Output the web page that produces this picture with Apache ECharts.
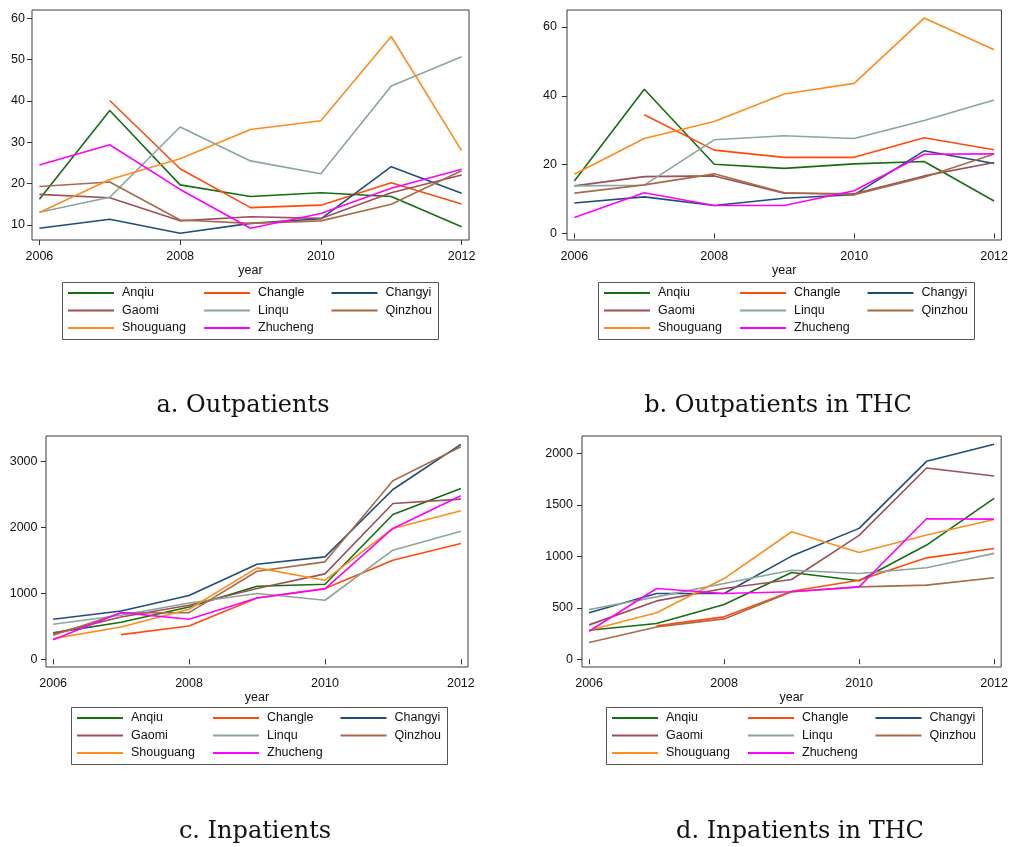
<!DOCTYPE html>
<html>
<head>
<meta charset="utf-8">
<script src="https://cdn.jsdelivr.net/npm/echarts@6/dist/echarts.min.js"></script>
<style>
  html, body { margin: 0; padding: 0; background: #fff; }
  #chart { width: 1011px; height: 847px; }
</style>
</head>
<body>
<div id="chart"></div>
<script>
var years = [2006, 2007, 2008, 2009, 2010, 2011, 2012];
var cities = ['Anqiu', 'Changle', 'Changyi', 'Gaomi', 'Linqu', 'Qinzhou', 'Shouguang', 'Zhucheng'];
var colors = ['#13700f', '#ff4a0a', '#1f4e7a', '#9c4f57', '#8aa59a', '#a86b48', '#ff8c1a', '#ff00ff'];

// a. Outpatients
var outAnqiu     = [16.2, 37.7, 19.7, 16.9, 17.8, 16.9, 9.6];
var outChangle   = [null, 40.1, 23.6, 14.2, 14.8, 20.2, 15.1];
var outChangyi   = [9.2, 11.4, 8.0, 10.4, 11.5, 24.1, 17.7];
var outGaomi     = [17.4, 16.6, 11.0, 12.0, 11.6, 17.8, 22.1];
var outLinqu     = [13.1, 16.7, 33.7, 25.5, 22.4, 43.6, 50.7];
var outQinzhou   = [19.3, 20.4, 11.2, 10.4, 11.0, 15.0, 23.1];
var outShouguang = [13.0, 21.0, 26.0, 33.1, 35.2, 55.6, 28.0];
var outZhucheng  = [24.5, 29.4, 18.6, 9.2, 12.8, 18.9, 23.5];

// b. Outpatients in THC
var thcOutAnqiu     = [15.2, 41.9, 20.1, 18.9, 20.2, 20.9, 9.4];
var thcOutChangle   = [null, 34.5, 24.2, 22.1, 22.1, 27.8, 24.3];
var thcOutChangyi   = [8.8, 10.6, 8.1, 10.2, 11.2, 24.0, 20.3];
var thcOutGaomi     = [13.8, 16.5, 16.7, 11.7, 11.5, 16.7, 20.6];
var thcOutLinqu     = [13.8, 14.0, 27.2, 28.4, 27.6, 32.8, 38.8];
var thcOutQinzhou   = [11.7, 14.1, 17.3, 11.8, 11.2, 16.3, 23.1];
var thcOutShouguang = [17.2, 27.6, 32.5, 40.5, 43.6, 62.6, 53.4];
var thcOutZhucheng  = [4.6, 11.8, 8.1, 8.1, 12.4, 23.0, 23.1];

// c. Inpatients
var inAnqiu     = [400, 560, 793, 1106, 1136, 2192, 2586];
var inChangle   = [null, 374, 505, 929, 1071, 1500, 1752];
var inChangyi   = [606, 732, 965, 1439, 1550, 2570, 3252];
var inGaomi     = [389, 641, 818, 1071, 1293, 2358, 2424];
var inLinqu     = [530, 667, 853, 995, 894, 1651, 1939];
var inQinzhou   = [364, 702, 707, 1333, 1475, 2702, 3217];
var inShouguang = [313, 490, 757, 1384, 1197, 1980, 2247];
var inZhucheng  = [298, 707, 606, 929, 1066, 1980, 2475];

// d. Inpatients in THC
var thcInAnqiu     = [282, 347, 532, 843, 762, 1109, 1562];
var thcInChangle   = [null, 324, 412, 661, 768, 985, 1076];
var thcInChangyi   = [451, 639, 639, 1002, 1271, 1922, 2088];
var thcInGaomi     = [334, 567, 687, 775, 1203, 1857, 1780];
var thcInLinqu     = [483, 606, 736, 865, 833, 888, 1028];
var thcInQinzhou   = [162, 314, 392, 655, 703, 720, 791];
var thcInShouguang = [282, 451, 784, 1238, 1037, 1206, 1358];
var thcInZhucheng  = [272, 687, 639, 655, 703, 1365, 1361];

var xTicks = [2006, 2008, 2010, 2012];
var yTicksA = [10, 20, 30, 40, 50, 60];
var yTicksB = [0, 20, 40, 60];
var yTicksC = [0, 1000, 2000, 3000];
var yTicksD = [0, 500, 1000, 1500, 2000];

// layout of the four panels (pixels)
var panels = [
    {grid: {left: 32, top: 10, width: 437, height: 230}, yMin: 6.37, yMax: 62, yTicks: yTicksA, margin: 7,
     legend: {left: 62, top: 282}, caption: 'a. Outpatients', capX: 243, capY: 406,
     data: [outAnqiu, outChangle, outChangyi, outGaomi, outLinqu, outQinzhou, outShouguang, outZhucheng]},
    {grid: {left: 567, top: 10, width: 437, height: 230}, yMin: -1.94, yMax: 64.95, yTicks: yTicksB, margin: 10,
     legend: {left: 598, top: 282}, caption: 'b. Outpatients in THC', capX: 778, capY: 406,
     data: [thcOutAnqiu, thcOutChangle, thcOutChangyi, thcOutGaomi, thcOutLinqu, thcOutQinzhou, thcOutShouguang, thcOutZhucheng]},
    {grid: {left: 46, top: 436, width: 422, height: 231}, yMin: -116, yMax: 3379, yTicks: yTicksC, margin: 8.5,
     legend: {left: 71, top: 707}, caption: 'c. Inpatients', capX: 255, capY: 832,
     data: [inAnqiu, inChangle, inChangyi, inGaomi, inLinqu, inQinzhou, inShouguang, inZhucheng]},
    {grid: {left: 582, top: 436, width: 422, height: 231}, yMin: -75, yMax: 2168, yTicks: yTicksD, margin: 9,
     legend: {left: 606, top: 707}, caption: 'd. Inpatients in THC', capX: 800, capY: 832,
     data: [thcInAnqiu, thcInChangle, thcInChangyi, thcInGaomi, thcInLinqu, thcInQinzhou, thcInShouguang, thcInZhucheng]}
];
var colOffsets = [6, 142, 269.5];

var sans = 'Liberation Sans, Arial, sans-serif';
var option = {
    animation: false,
    backgroundColor: '#fff',
    grid: [], xAxis: [], yAxis: [], legend: [], series: [], graphic: []
};

panels.forEach(function (p, k) {
    option.grid.push({left: p.grid.left, top: p.grid.top, width: p.grid.width, height: p.grid.height,
        show: true, borderColor: '#3a3a3a', borderWidth: 1, backgroundColor: '#fff'});
    option.xAxis.push({
        type: 'value', gridIndex: k, min: 2006 - 0.105, max: 2012 + 0.105,
        name: 'year', nameLocation: 'middle', nameGap: 21,
        nameTextStyle: {fontFamily: sans, fontSize: 12.5, color: '#111'},
        axisLine: {show: false}, splitLine: {show: false},
        axisTick: {show: true, length: 5, customValues: xTicks, lineStyle: {color: '#333'}},
        axisLabel: {customValues: xTicks, margin: 10, fontFamily: sans, fontSize: 12.5, color: '#111',
            formatter: function (v) { return String(v); }}
    });
    option.yAxis.push({
        type: 'value', gridIndex: k, min: p.yMin, max: p.yMax,
        axisLine: {show: false}, splitLine: {show: false},
        axisTick: {show: true, length: 5, customValues: p.yTicks, lineStyle: {color: '#333'}},
        axisLabel: {customValues: p.yTicks, margin: p.margin, fontFamily: sans, fontSize: 12.5, color: '#111',
            formatter: function (v) { return String(v); }}
    });
    // legend: one vertical legend per column, box drawn as a rect
    for (var col = 0; col < 3; col++) {
        option.legend.push({
            left: p.legend.left + colOffsets[col], top: p.legend.top + 2.25,
            orient: 'vertical', itemGap: 0, itemWidth: 46, itemHeight: 2, padding: 0,
            icon: 'rect',
            data: cities.filter(function (c, i) { return i % 3 === col; }),
            textStyle: {fontFamily: sans, fontSize: 12.5, color: '#111', lineHeight: 17.5, padding: [0, 0, 0, 3]}
        });
    }
    option.graphic.push({
        type: 'rect', shape: {x: p.legend.left + 0.5, y: p.legend.top + 0.5, width: 376, height: 57},
        style: {fill: 'none', stroke: '#555', lineWidth: 1}
    });
    cities.forEach(function (c, i) {
        option.series.push({
            name: c, type: 'line', xAxisIndex: k, yAxisIndex: k,
            symbol: 'none', color: colors[i],
            lineStyle: {width: 1.6, color: colors[i]},
            data: years.map(function (y, j) { return [y, p.data[i][j]]; })
        });
    });
    option.graphic.push({
        type: 'text', x: p.capX, y: p.capY,
        style: {text: p.caption, fill: '#111', font: '24px "DejaVu Serif", serif',
            textAlign: 'center', textVerticalAlign: 'middle'}
    });
});

var myChart = echarts.init(document.getElementById('chart'));
myChart.setOption(option);
</script>
</body>
</html>
